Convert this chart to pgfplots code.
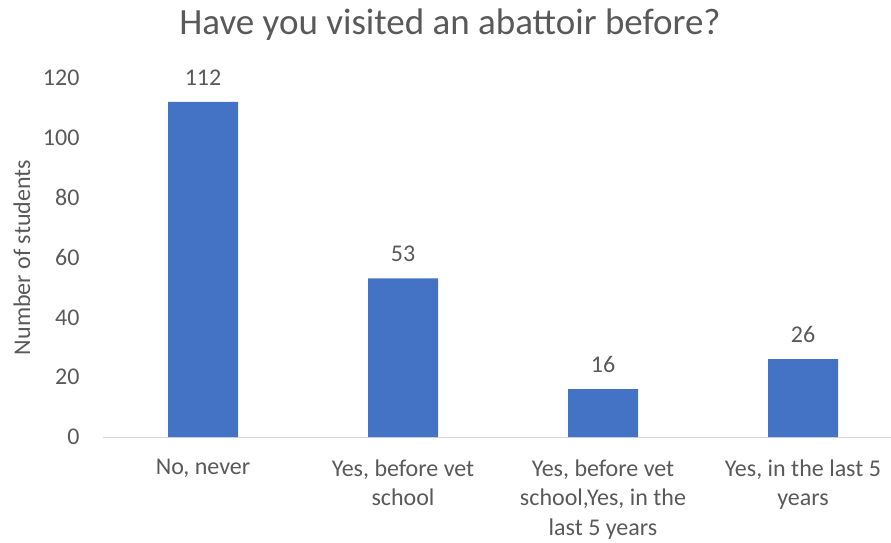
\documentclass[border=0pt]{standalone}
\usepackage{pgfplots}
\pgfplotsset{compat=1.18}
\usepackage{fontspec}
\setmainfont{Carlito}
\definecolor{txt}{HTML}{595959}
\definecolor{bar}{HTML}{4472C4}
\definecolor{grid}{HTML}{D9D9D9}
\begin{document}
\begin{tikzpicture}[x=1pt,y=1pt]
\path[use as bounding box] (0,0) rectangle (891,542);
\node[text=txt,font=\fontsize{37}{44}\selectfont] at (450,517) {Have you visited an abattoir before?};
\begin{axis}[
  at={(103pt,105pt)}, anchor=south west,
  scale only axis, width=788pt, height=359pt,
  xmin=-0.5, xmax=3.44, ymin=0, ymax=120,
  ytick={0,20,...,120},
  xtick={0,1,2,3},
  xticklabels={{No, never},{Yes, before vet\\school},{Yes, before vet\\school,Yes, in the\\last 5 years},{Yes, in the last 5\\years}},
  axis x line=bottom, axis y line=left,
  x axis line style={grid, line width=1pt, -},
  y axis line style={draw=none},
  major tick length=0pt,
  /pgf/number format/assume math mode=true,
  yticklabel style={text=txt, font=\fontsize{24}{29}\selectfont, anchor=east, xshift=-20pt},
  xticklabel style={text=txt, font=\fontsize{24}{29.5}\selectfont, align=center, anchor=north, yshift=-19pt},
  ylabel={Number of students},
  every axis y label/.style={at={(axis description cs:-0.1028,0.5)}, rotate=90, anchor=center, text=txt, font=\fontsize{24}{29}\selectfont},
  clip=false,
  ybar, bar width=70pt,
  nodes near coords,
  every node near coord/.append style={text=txt, font=\fontsize{24}{29}\selectfont, yshift=13pt},
]
\addplot[fill=bar, draw=none] coordinates {(0,112) (1,53) (2,16) (3,26)};
\end{axis}
\end{tikzpicture}
\end{document}
